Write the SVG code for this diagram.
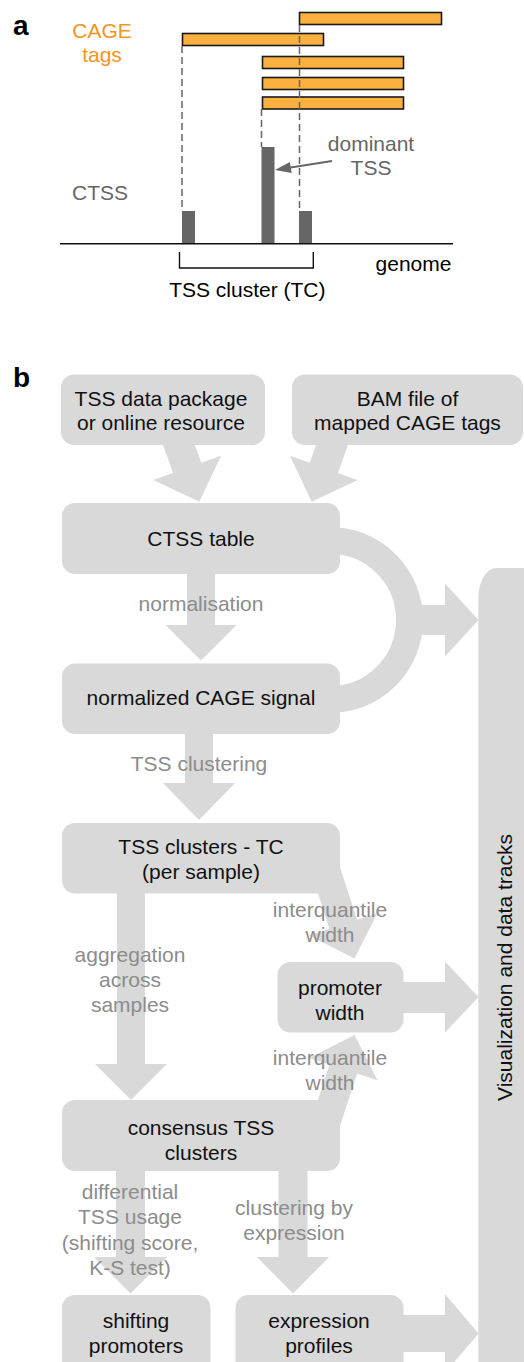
<svg xmlns="http://www.w3.org/2000/svg" width="524" height="1362" viewBox="0 0 524 1362">
<style>
.box{fill:#d9d9d9}
.arr{fill:#d9d9d9}
.ring{fill:none;stroke:#d9d9d9;stroke-width:27}
.t{font-family:'Liberation Sans',Arial,Helvetica,sans-serif;font-size:21px;fill:#111;text-anchor:middle}
.lbl{font-family:'Liberation Sans',Arial,Helvetica,sans-serif;font-size:21px;fill:#8c8c8c;text-anchor:middle}
.ga{font-family:'Liberation Sans',Arial,Helvetica,sans-serif;font-size:21px;fill:#666}
.or{font-family:'Liberation Sans',Arial,Helvetica,sans-serif;font-size:21px;fill:#F7931E;text-anchor:middle}
.pl{font-family:'Liberation Sans',Arial,Helvetica,sans-serif;font-size:28px;font-weight:bold;fill:#000}
.tag{fill:#FBB040;stroke:#1a1a1a;stroke-width:1.6}
.dash{fill:none;stroke:#666;stroke-width:1.5;stroke-dasharray:7 4}
.ctss{fill:#666}
.blk{fill:none;stroke:#111;stroke-width:1.4}
</style>
<rect width="524" height="1362" fill="#fff"/>

<!-- Panel a -->
<g id="panel-a">
  <text class="pl" x="13" y="35">a</text>
  <text class="or" x="102" y="38">CAGE</text>
  <text class="or" x="102" y="62">tags</text>
  <rect class="tag" x="299.5" y="12.5" width="142" height="12"/>
  <rect class="tag" x="182.5" y="33.5" width="141" height="12"/>
  <rect class="tag" x="262.5" y="56.5" width="141" height="12"/>
  <rect class="tag" x="262.5" y="77.5" width="141" height="12"/>
  <rect class="tag" x="262.5" y="97" width="141" height="12"/>
  <rect class="ctss" x="182" y="211" width="13" height="33"/>
  <rect class="ctss" x="261.5" y="147" width="13" height="97"/>
  <rect class="ctss" x="299" y="211" width="13" height="33"/>
  <line class="dash" x1="182" y1="46" x2="182" y2="211"/>
  <line class="dash" x1="261.5" y1="109" x2="261.5" y2="147"/>
  <line class="dash" x1="299.5" y1="25" x2="299.5" y2="211"/>
  <line x1="60" y1="243.7" x2="453" y2="243.7" stroke="#111" stroke-width="1.4"/>
  <path class="blk" d="M179.5,252 V268 H313.3 V252"/>
  <text class="ga" x="72" y="200">CTSS</text>
  <text class="ga" x="371" y="150.5" text-anchor="middle">dominant</text>
  <text class="ga" x="371" y="175" text-anchor="middle">TSS</text>
  <line x1="332" y1="161" x2="289" y2="167.8" stroke="#666" stroke-width="2"/>
  <polygon points="275,170 291.7,172.9 289.9,162.1" fill="#666"/>
  <text class="t" x="413.5" y="270.5" style="fill:#000">genome</text>
  <text class="t" x="247.3" y="297" style="fill:#000">TSS cluster (TC)</text>
</g>

<!-- Panel b connectors -->
<g id="connectors">
  <polygon class="arr" points="159.6,435.4 187.8,425.2 201.3,462.8 221.1,455.8 199.3,501.7 153.3,480 173.1,473"/>
  <polygon class="arr" points="351.4,435.4 323.2,425.2 309.7,462.8 289.9,455.8 311.7,501.7 357.7,480 337.9,473"/>
  <polygon class="arr" points="187,570 215,570 215,625 236.5,625 201,660.5 165.5,625 187,625"/>
  <path class="ring" d="M330,540.5 A79.5,79.5 0 0 1 330,699.5"/>
  <polygon class="arr" points="400,605 445,605 445,583.5 478.5,620 445,656.5 445,635 400,635"/>
  <polygon class="arr" points="185,730 213,730 213,783 235,783 199,820 163,783 185,783"/>
  <polygon class="arr" points="117,890 145,890 145,1064 167,1064 131,1100 95,1064 117,1064"/>
  <polygon class="arr" points="310.9,871.7 338.5,862.7 357.1,919.8 377.5,913.1 354.5,958.5 309.1,935.5 329.5,928.8"/>
  <polygon class="arr" points="310.9,1121.7 338.5,1130.7 357.1,1073.6 377.5,1080.3 354.5,1034.9 309.1,1057.9 329.5,1064.6"/>
  <polygon class="arr" points="398,982 445,982 445,961.5 478.5,997 445,1032.5 445,1013 398,1013"/>
  <polygon class="arr" points="116,1167 145,1167 145,1257 167,1257 130.5,1293.5 94,1257 116,1257"/>
  <polygon class="arr" points="278.5,1167 307.5,1167 307.5,1257 329,1257 293,1293.5 257,1257 278.5,1257"/>
  <polygon class="arr" points="398,1315 445,1315 445,1294 478.5,1333.5 445,1373 445,1352 398,1352"/>
  <text class="lbl" x="201" y="611">normalisation</text>
  <text class="lbl" x="199" y="771">TSS clustering</text>
  <text class="lbl" x="330" y="916.5">interquantile</text>
  <text class="lbl" x="330" y="941.5">width</text>
  <text class="lbl" x="130" y="962">aggregation</text>
  <text class="lbl" x="130" y="987">across</text>
  <text class="lbl" x="130" y="1012">samples</text>
  <text class="lbl" x="330" y="1065">interquantile</text>
  <text class="lbl" x="330" y="1090">width</text>
  <text class="lbl" x="130" y="1198.5">differential</text>
  <text class="lbl" x="130" y="1224">TSS usage</text>
  <text class="lbl" x="130" y="1249.5">(shifting score,</text>
  <text class="lbl" x="130" y="1275">K-S test)</text>
  <text class="lbl" x="294" y="1214.5">clustering by</text>
  <text class="lbl" x="294" y="1239.5">expression</text>
</g>

<text class="pl" x="13" y="386.5">b</text>

<g id="node-tss-data">
  <rect class="box" x="61" y="374.5" width="204" height="70.5" rx="13"/>
  <text class="t" x="161" y="406">TSS data package</text>
  <text class="t" x="161" y="430">or online resource</text>
</g>
<g id="node-bam">
  <rect class="box" x="292" y="374.5" width="231" height="70.5" rx="13"/>
  <text class="t" x="407.5" y="406">BAM file of</text>
  <text class="t" x="407.5" y="430">mapped CAGE tags</text>
</g>
<g id="node-ctss">
  <rect class="box" x="62" y="503" width="278" height="71" rx="13"/>
  <text class="t" x="201" y="545.5">CTSS table</text>
</g>
<g id="node-normalized">
  <rect class="box" x="62" y="663.5" width="278" height="70.5" rx="13"/>
  <text class="t" x="201" y="705">normalized CAGE signal</text>
</g>
<g id="node-tc">
  <rect class="box" x="62" y="823" width="278" height="70.5" rx="13"/>
  <text class="t" x="201" y="853.5">TSS clusters - TC</text>
  <text class="t" x="201" y="878.5">(per sample)</text>
</g>
<g id="node-promoter-width">
  <rect class="box" x="277.5" y="962" width="126" height="70.5" rx="13"/>
  <text class="t" x="340" y="994.5">promoter</text>
  <text class="t" x="340" y="1019.5">width</text>
</g>
<g id="node-consensus">
  <rect class="box" x="62" y="1100" width="278" height="71" rx="13"/>
  <text class="t" x="201" y="1135">consensus TSS</text>
  <text class="t" x="201" y="1160">clusters</text>
</g>
<g id="node-shifting">
  <rect class="box" x="62" y="1295" width="148.5" height="80" rx="13"/>
  <text class="t" x="136" y="1327.5">shifting</text>
  <text class="t" x="136" y="1352.5">promoters</text>
</g>
<g id="node-expression">
  <rect class="box" x="235.5" y="1295" width="168" height="80" rx="13"/>
  <text class="t" x="319" y="1327.5">expression</text>
  <text class="t" x="319" y="1352.5">profiles</text>
</g>
<g id="node-visualization">
  <rect class="box" x="478.3" y="568" width="70" height="820" rx="18" ry="30"/>
  <text class="t" transform="translate(511.5,967.5) rotate(-90)">Visualization and data tracks</text>
</g>
</svg>
